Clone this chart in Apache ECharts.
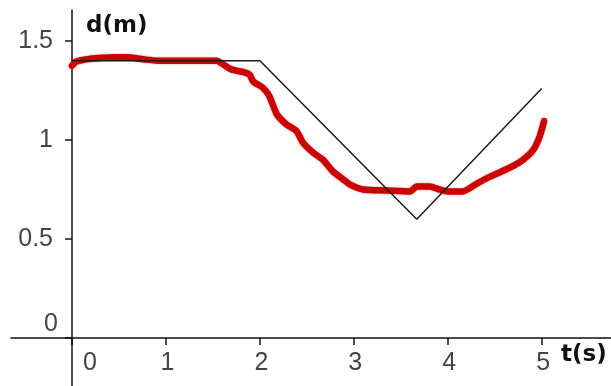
<!DOCTYPE html>
<html>
<head>
<meta charset="utf-8">
<script src="https://cdn.jsdelivr.net/npm/echarts@6/dist/echarts.min.js"></script>
<style>
  html, body { margin: 0; padding: 0; background: #fff; }
  #chart { width: 611px; height: 386px; }
</style>
</head>
<body>
<div id="chart"></div>
<script>
// Tick positions and labels
const tickT = [0, 1, 2, 3, 4, 5];
const tickD = [0, 0.5, 1, 1.5];

// Model motion: rest, walk toward sensor, walk away
const modelT = [0, 2, 3.67, 5];
const modelD = [1.4, 1.4, 0.6, 1.26];

// Measured distance from the motion sensor
const measT = [0, 0.04, 0.1, 0.2, 0.33, 0.45, 0.58, 0.7, 0.79, 0.94, 1.1, 1.3, 1.54,
  1.6, 1.68, 1.75, 1.82, 1.89, 1.93, 2.03, 2.1, 2.18, 2.28, 2.39, 2.46, 2.57, 2.67,
  2.78, 2.89, 2.96, 3.1, 3.35, 3.6, 3.64, 3.67, 3.81, 3.91, 4.0, 4.16, 4.31, 4.45,
  4.66, 4.8, 4.91, 4.98, 5.025];
const measD = [1.375, 1.395, 1.403, 1.41, 1.415, 1.418, 1.418, 1.412, 1.406, 1.4, 1.4, 1.4, 1.4,
  1.385, 1.36, 1.35, 1.344, 1.33, 1.295, 1.265, 1.222, 1.13, 1.08, 1.045, 0.986, 0.935, 0.901,
  0.84, 0.80, 0.775, 0.75, 0.745, 0.74, 0.755, 0.765, 0.765, 0.75, 0.74, 0.74, 0.78, 0.815,
  0.86, 0.9, 0.95, 1.02, 1.095];

// Visible window of the plane
const tMin = -0.6494, tMax = 5.7377;
const dMin = -0.2424, dMax = 1.6566;

const zip = (xs, ys) => xs.map((x, i) => [x, ys[i]]);

const labelFont = { fontFamily: 'Liberation Sans', fontSize: 25, color: '#444' };
const titleFont = { fontFamily: 'DejaVu Sans', fontWeight: 'bold', fontSize: 23, color: '#111' };
const axisInk = { color: '#111', width: 1.5 };

const chart = echarts.init(document.getElementById('chart'), null, { renderer: 'canvas' });
chart.setOption({
  animation: false,
  backgroundColor: '#fff',
  title: [
    { text: 'd(m)', left: 86, top: 15, padding: 0, textStyle: titleFont },
    { text: 't(s)', left: 561, top: 344, padding: 0, textStyle: titleFont }
  ],
  grid: [
    // full plane: axis lines through the origin, ticks and curves
    { left: 11, right: 0, top: 10, bottom: 0, containLabel: false, outerBoundsMode: 'none' },
    // first quadrant: tick labels along its edges (which sit on the axes)
    { left: 72, right: 0, top: 10, bottom: 48, containLabel: false, outerBoundsMode: 'none' }
  ],
  xAxis: [
    {
      gridIndex: 0, type: 'value', min: tMin, max: tMax,
      axisLine: { onZero: true, lineStyle: axisInk },
      axisTick: { show: true, customValues: tickT, length: 7, lineStyle: axisInk },
      axisLabel: { show: false },
      splitLine: { show: false }
    },
    {
      gridIndex: 1, type: 'value', min: 0, max: tMax,
      axisLine: { show: false },
      axisTick: { show: false },
      axisLabel: {
        customValues: tickT,
        margin: 13,
        ...labelFont,
        formatter: v => (v === 0 ? '{z|0}' : '{n|' + v + '}'),
        rich: {
          z: { ...labelFont, padding: [0, 0, 0, 36] },
          n: { ...labelFont, padding: [0, 0, 0, 3] }
        }
      },
      splitLine: { show: false }
    }
  ],
  yAxis: [
    {
      gridIndex: 0, type: 'value', min: dMin, max: dMax,
      axisLine: { onZero: true, lineStyle: axisInk },
      axisTick: { show: true, customValues: tickD, length: 7, lineStyle: axisInk },
      axisLabel: { show: false },
      splitLine: { show: false }
    },
    {
      gridIndex: 1, type: 'value', min: 0, max: dMax,
      axisLine: { show: false },
      axisTick: { show: false },
      axisLabel: {
        customValues: tickD,
        margin: 14,
        ...labelFont,
        formatter: v => (v === 0 ? '{z|0}' : '{n|' + v + '}'),
        rich: {
          z: { ...labelFont, padding: [0, 0, 28, 0] },
          n: { ...labelFont, padding: [0, 5, 0, 0] }
        }
      },
      splitLine: { show: false }
    }
  ],
  series: [
    {
      name: 'measured',
      type: 'line',
      xAxisIndex: 0, yAxisIndex: 0,
      data: zip(measT, measD),
      showSymbol: false,
      smooth: 0.2,
      lineStyle: {
        color: '#cc0000', width: 6.5, cap: 'round', join: 'round',
        shadowColor: 'rgba(204,0,0,0.5)', shadowBlur: 2
      },
      z: 2
    },
    {
      name: 'model',
      type: 'line',
      xAxisIndex: 0, yAxisIndex: 0,
      data: zip(modelT, modelD),
      showSymbol: false,
      lineStyle: { color: '#1a1a1a', width: 1.5 },
      z: 3
    }
  ]
});
</script>
</body>
</html>
